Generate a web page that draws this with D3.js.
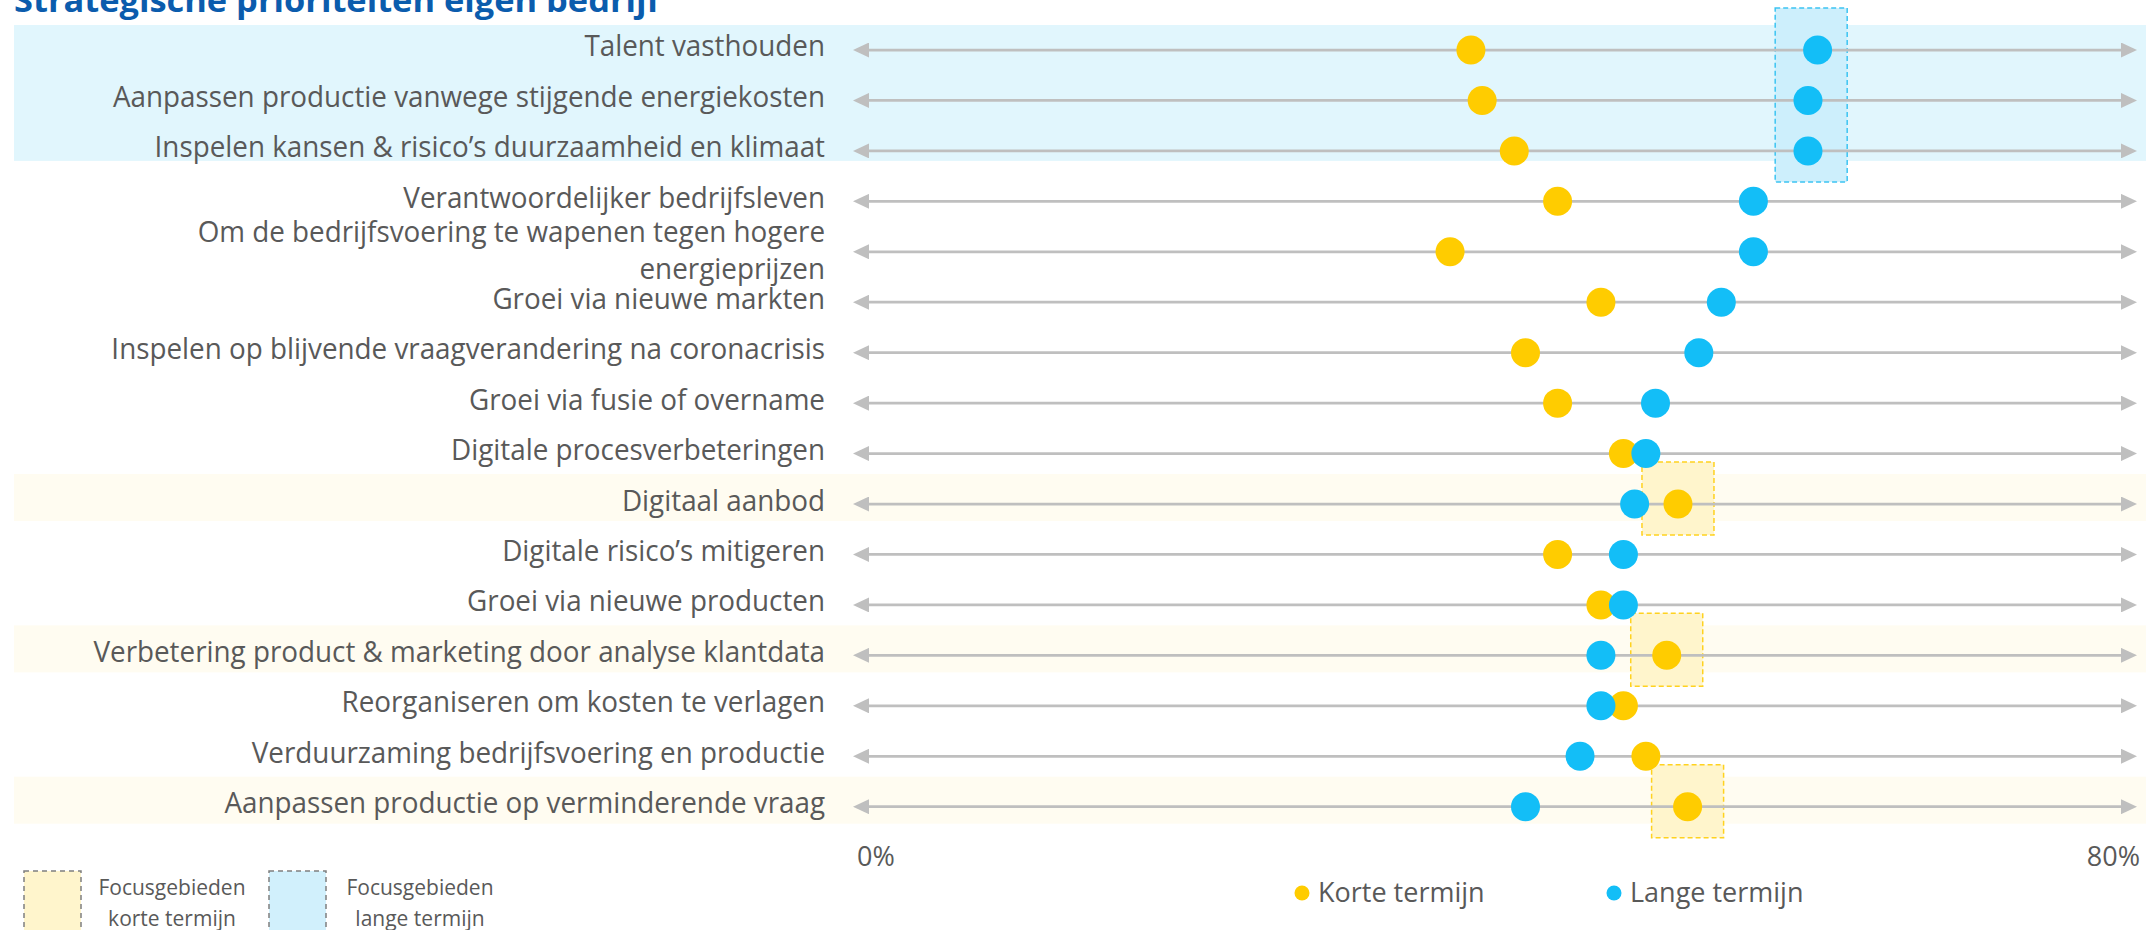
<!DOCTYPE html>
<html>
<head>
<meta charset="utf-8">
<script src="https://cdn.jsdelivr.net/npm/d3@7"></script>
<style>
  html, body { margin: 0; padding: 0; background: #fff; }
  svg { display: block; }
  text { font-family: "Open Sans", "Noto Sans", sans-serif; fill: #595959; }
</style>
</head>
<body>
<svg id="chart" width="2154" height="930"></svg>
<script>
var WIDTH = 2154,
    HEIGHT = 930;

// Categorieën van boven naar beneden (\n = tweede regel)
const categories = [
  "Talent vasthouden",
  "Aanpassen productie vanwege stijgende energiekosten",
  "Inspelen kansen & risico’s duurzaamheid en klimaat",
  "Verantwoordelijker bedrijfsleven",
  "Om de bedrijfsvoering te wapenen tegen hogere\nenergieprijzen",
  "Groei via nieuwe markten",
  "Inspelen op blijvende vraagverandering na coronacrisis",
  "Groei via fusie of overname",
  "Digitale procesverbeteringen",
  "Digitaal aanbod",
  "Digitale risico’s mitigeren",
  "Groei via nieuwe producten",
  "Verbetering product & marketing door analyse klantdata",
  "Reorganiseren om kosten te verlagen",
  "Verduurzaming bedrijfsvoering en productie",
  "Aanpassen productie op verminderende vraag"
];

// percentages
const korteTermijn = [38.5, 39.2, 41.2, 43.9, 37.2, 46.6, 41.9, 43.9, 48.0, 51.4, 43.9, 46.6, 50.7, 48.0, 49.4, 52.0];
const langeTermijn = [60.1, 59.5, 59.5, 56.1, 56.1, 54.1, 52.7, 50.0, 49.4, 48.7, 48.0, 48.0, 46.6, 46.6, 45.3, 41.9];

const xTicks = [0, 80];

// focusgebieden: groepen van rij-indexen
const focusLang = [[0, 1, 2]];
const focusKort = [[9], [12], [15]];

const YELLOW = "#FFCC00",
      BLUE = "#13BEF7",
      LINE = "#BFBFBF";

var svg = d3.select("#chart");

var x = d3.scaleLinear().domain([0, 80]).range([853, 2137]);
var y = d3.scalePoint().domain(d3.range(categories.length)).range([50, 806.7]);

// horizontaal samendrukken zodat het op Calibri lijkt
const fitWidth = (sel, target) => {
    var w = 0;
    sel.selectAll("text").each(function() { w = Math.max(w, this.getComputedTextLength()); });
    return w > 0 ? target / w : 1;
}

// --- achtergrondbanden ---
var bands = svg.append("g");
focusLang.forEach(rows => {
    bands.append("rect")
      .attr("x", 14).attr("width", 2146 - 14)
      .attr("y", y(rows[0]) - 25)
      .attr("height", y(rows[rows.length - 1]) + 10 - (y(rows[0]) - 25))
      .attr("fill", "#E1F6FD");
});
focusKort.forEach(rows => {
    bands.append("rect")
      .attr("x", 14).attr("width", 2146 - 14)
      .attr("y", y(rows[0]) - 30)
      .attr("height", y(rows[rows.length - 1]) + 17 - (y(rows[0]) - 30))
      .attr("fill", "#FFFCF1");
});

// --- focuskaders ---
const drawBox = (rows, values, fill, stroke) => {
    var cx = d3.mean(rows, r => x(values[r]));
    var top = y(rows[0]) - 42, bottom = y(rows[rows.length - 1]) + 31;
    svg.append("rect")
      .attr("x", cx - 36).attr("width", 72)
      .attr("y", top).attr("height", bottom - top)
      .attr("fill", fill)
      .attr("stroke", stroke)
      .attr("stroke-width", 1.5)
      .attr("stroke-dasharray", "5,3");
}
focusLang.forEach(rows => drawBox(rows, langeTermijn, "#CDEFFC", "#3CC4F2"));
focusKort.forEach(rows => drawBox(rows, korteTermijn, "#FFF5CC", "#FFD21F"));

// --- pijllijnen ---
var defs = svg.append("defs");
defs.append("marker")
    .attr("id", "arrow")
    .attr("viewBox", "0 0 16 15")
    .attr("refX", 8).attr("refY", 7.5)
    .attr("markerWidth", 16).attr("markerHeight", 15)
    .attr("markerUnits", "userSpaceOnUse")
    .attr("orient", "auto-start-reverse")
  .append("path")
    .attr("d", "M0,0L16,7.5L0,15Z")
    .attr("fill", LINE);

svg.append("g").selectAll("line")
  .data(categories)
  .enter()
  .append("line")
    .attr("x1", x(0) + 8).attr("x2", x(80) - 8)
    .attr("y1", (d, i) => y(i)).attr("y2", (d, i) => y(i))
    .attr("stroke", LINE)
    .attr("stroke-width", 2.75)
    .attr("marker-start", "url(#arrow)")
    .attr("marker-end", "url(#arrow)");

// --- punten (geel eerst, blauw erboven) ---
[[korteTermijn, YELLOW], [langeTermijn, BLUE]].forEach(([vals, color]) => {
    svg.append("g").selectAll("circle")
      .data(vals)
      .enter()
      .append("circle")
        .attr("cx", d => x(d))
        .attr("cy", (d, i) => y(i))
        .attr("r", 14.5)
        .attr("fill", color);
});

// --- categorielabels ---
var labels = svg.append("g");
categories.forEach((c, i) => {
    var lines = c.split("\n");
    var t = labels.append("text")
      .attr("text-anchor", "end")
      .attr("font-size", 29.5);
    if (lines.length == 1) {
        t.append("tspan").attr("x", 0).attr("y", y(i) + 6.5).text(lines[0]);
    } else {
        lines.forEach((l, j) => {
            t.append("tspan").attr("x", 0).attr("y", y(i) - 10 + j * 37).text(l);
        });
    }
});
var k = 1;
(function() {
    var w = 0;
    labels.selectAll("tspan").each(function() { w = Math.max(w, this.getComputedTextLength()); });
    if (w > 0) k = 732 / w;
})();
labels.attr("transform", `translate(825,0) scale(${k},1)`);

// --- titel (grotendeels buiten beeld) ---
var title = svg.append("g");
title.append("text")
    .attr("x", 0).attr("y", 12)
    .attr("font-size", 32)
    .attr("font-weight", 700)
    .style("fill", "#0B5CAD")
    .text("Strategische prioriteiten eigen bedrijf");
title.attr("transform", `translate(14,0) scale(${fitWidth(title, 646)},1)`);

// --- as-labels ---
svg.append("g").selectAll("text")
  .data(xTicks)
  .enter()
  .append("text")
    .attr("x", d => d == 0 ? x(d) + 4 : x(d) + 3)
    .attr("y", 866)
    .attr("text-anchor", d => d == 0 ? "start" : "end")
    .attr("font-size", 27)
    .text(d => d + "%");

// --- legenda reeksen ---
var legend = svg.append("g");
[["Korte termijn", YELLOW, 1302], ["Lange termijn", BLUE, 1614]].forEach(([name, color, lx]) => {
    legend.append("circle").attr("cx", lx).attr("cy", 893).attr("r", 7.5).attr("fill", color);
    legend.append("text").attr("x", lx + 16).attr("y", 902).attr("font-size", 27).text(name);
});

// --- legenda focusgebieden ---
var focusLegend = svg.append("g");
[["korte termijn", "#FFF5CC", 24, 172], ["lange termijn", "#D1F0FC", 269, 420]].forEach(([sub, fill, rx, tx]) => {
    focusLegend.append("rect")
      .attr("x", rx).attr("y", 871).attr("width", 57).attr("height", 70)
      .attr("fill", fill)
      .attr("stroke", "#7F7F7F")
      .attr("stroke-width", 1.5)
      .attr("stroke-dasharray", "5,4");
    focusLegend.append("text").attr("x", tx).attr("y", 895)
      .attr("text-anchor", "middle").attr("font-size", 21).text("Focusgebieden");
    focusLegend.append("text").attr("x", tx).attr("y", 926)
      .attr("text-anchor", "middle").attr("font-size", 21).text(sub);
});
</script>
</body>
</html>
